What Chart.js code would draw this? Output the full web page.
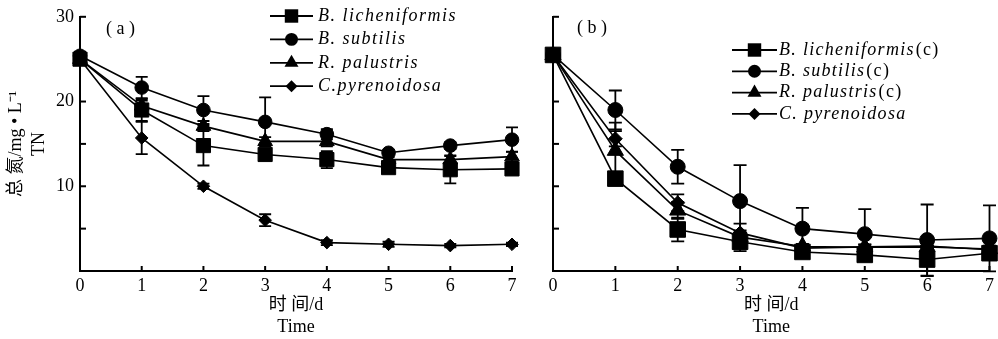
<!DOCTYPE html>
<html><head><meta charset="utf-8">
<script src="https://cdn.jsdelivr.net/npm/chart.js@4/dist/chart.umd.min.js"></script>
<style>
html,body{margin:0;padding:0;background:#fff;width:998px;height:339px;overflow:hidden;}
#wrapA{position:absolute;left:0;top:0;width:535px;height:339px;}
#wrapB{position:absolute;left:520px;top:0;width:478px;height:339px;}
canvas{display:block;}
</style></head><body>
<div id="wrapA"><canvas id="cA" width="535" height="339"></canvas></div>
<div id="wrapB"><canvas id="cB" width="478" height="339"></canvas></div>
<script>
// ---- data ----
const days = [0, 1, 2, 3, 4, 5, 6, 7];
const yLabelValues = [10, 20, 30];
const namesA = ['B. licheniformis', 'B. subtilis', 'R. palustris', 'C.pyrenoidosa'];
const namesB = ['B. licheniformis', 'B. subtilis', 'R. palustris', 'C. pyrenoidosa'];
const suffixB = ['(c)', '(c)', '(c)', ''];
const xTitle = ['时 间/d', 'Time'];
const yTitle = ['总 氮/mg • L⁻¹', 'TN'];

// panel (a)
const aLich = [25.0, 19.0, 14.8, 13.75, 13.15, 12.2, 11.95, 12.05];
const aLichErr = [0.5, 1.3, 2.35, 0.5, 1.0, 0.4, 1.6, 0.6];
const aSubt = [25.4, 21.65, 19.0, 17.6, 16.15, 13.95, 14.8, 15.5];
const aSubtErr = [0.5, 1.25, 1.65, 2.9, 0.6, 0.3, 0.4, 1.45];
const aPalu = [25.0, 19.5, 17.1, 15.3, 15.3, 13.15, 13.15, 13.5];
const aPaluErr = [0.3, 0.6, 0.6, 0.5, 0.6, 0.3, 0.5, 0.6];
const aPyre = [25.0, 15.7, 10.0, 6.0, 3.35, 3.15, 3.0, 3.15];
const aPyreErr = [0.3, 1.9, 0.3, 0.7, 0.3, 0.3, 0.2, 0.2];

// panel (b)
const bLich = [25.5, 10.9, 4.9, 3.45, 2.25, 1.9, 1.35, 2.1];
const bLichErr = [0, 0.5, 1.4, 1.1, 0.4, 0.5, 1.95, 0.8];
const bSubt = [25.5, 19.0, 12.3, 8.25, 5.0, 4.35, 3.65, 3.85];
const bSubtErr = [0, 2.3, 2.0, 4.25, 2.45, 2.95, 4.2, 3.9];
const bPalu = [25.5, 14.2, 7.15, 4.0, 2.9, 2.8, 2.85, 2.6];
const bPaluErr = [0, 3.3, 1.0, 0.8, 0.3, 0.3, 0.4, 0.4];
const bPyre = [25.5, 15.6, 8.05, 4.5, 2.7, 2.85, 2.95, 2.5];
const bPyreErr = [0, 0.9, 1.0, 1.1, 0.3, 0.3, 0.3, 0.3];

// ---- styles ----
const SERIF = "'Liberation Serif', 'Times New Roman', 'Noto Sans CJK SC', serif";
const markers = [
  {style: 'rect', r: 10},
  {style: 'circle', r: 6.8},
  {style: 'triangle', r: 8.5},
  {style: 'rectRot', r: 6.3}
];

function pts(vals) { return days.map((d, i) => ({x: d, y: vals[i]})); }

function makeDatasets(names, valsList, errList, scaleUp) {
  return valsList.map((vals, k) => ({
    label: names[k],
    data: pts(vals),
    errors: errList[k],
    borderColor: '#000',
    backgroundColor: '#000',
    borderWidth: 1.6,
    pointStyle: markers[k].style,
    pointRadius: markers[k].r * scaleUp,
    pointBackgroundColor: '#000',
    pointBorderColor: '#000',
    pointBorderWidth: 1,
    tension: 0,
    clip: false
  }));
}

function drawMarker(ctx, style, x, y, r) {
  ctx.beginPath();
  if (style === 'circle') {
    ctx.arc(x, y, r, 0, Math.PI * 2);
  } else if (style === 'rect') {
    const s = Math.SQRT1_2 * r;
    ctx.rect(x - s, y - s, 2 * s, 2 * s);
  } else if (style === 'triangle') {
    let a = 0;
    ctx.moveTo(x + Math.sin(a) * r, y - Math.cos(a) * r);
    a += 2 * Math.PI / 3;
    ctx.lineTo(x + Math.sin(a) * r, y - Math.cos(a) * r);
    a += 2 * Math.PI / 3;
    ctx.lineTo(x + Math.sin(a) * r, y - Math.cos(a) * r);
    ctx.closePath();
  } else if (style === 'rectRot') {
    ctx.moveTo(x, y - r); ctx.lineTo(x + r, y); ctx.lineTo(x, y + r); ctx.lineTo(x - r, y);
    ctx.closePath();
  }
  ctx.fill();
}

const decoPlugin = {
  id: 'deco',
  beforeDatasetsDraw(chart) {
    const ctx = chart.ctx, xs = chart.scales.x, ys = chart.scales.y;
    const cap = chart.options.plugins.deco.cap;
    ctx.save();
    ctx.strokeStyle = '#000';
    ctx.lineWidth = 1.8;
    chart.data.datasets.forEach(ds => {
      ds.data.forEach((p, i) => {
        const e = ds.errors[i];
        if (!e) return;
        const x = xs.getPixelForValue(p.x);
        const y1 = ys.getPixelForValue(p.y + e);
        const y2 = ys.getPixelForValue(p.y - e);
        ctx.beginPath();
        ctx.moveTo(x, y1); ctx.lineTo(x, y2);
        ctx.moveTo(x - cap / 2, y1); ctx.lineTo(x + cap / 2, y1);
        ctx.moveTo(x - cap / 2, y2); ctx.lineTo(x + cap / 2, y2);
        ctx.stroke();
      });
    });
    ctx.restore();
  },
  afterDraw(chart) {
    const ctx = chart.ctx, xs = chart.scales.x, ys = chart.scales.y;
    const o = chart.options.plugins.deco;
    const area = chart.chartArea;
    ctx.save();
    // inward tick marks
    ctx.strokeStyle = '#000';
    ctx.lineWidth = 2;
    xs.ticks.forEach(t => {
      if (t.value === 0) return;
      const x = xs.getPixelForValue(t.value);
      ctx.beginPath(); ctx.moveTo(x, area.bottom); ctx.lineTo(x, area.bottom - 5); ctx.stroke();
    });
    ys.ticks.forEach(t => {
      if (t.value === 0) return;
      const y = ys.getPixelForValue(t.value);
      ctx.beginPath(); ctx.moveTo(area.left, y); ctx.lineTo(area.left + 6, y); ctx.stroke();
    });
    // panel label
    ctx.fillStyle = '#000';
    ctx.font = '18px ' + SERIF;
    ctx.textBaseline = 'middle';
    ctx.textAlign = 'left';
    ctx.fillText(o.label, o.labelX, o.labelY);
    // legend
    const lg = o.legend;
    chart.data.datasets.forEach((ds, k) => {
      const y = lg.y0 + k * lg.dy;
      ctx.lineWidth = 1.8;
      ctx.beginPath(); ctx.moveTo(lg.x1, y); ctx.lineTo(lg.x2, y); ctx.stroke();
      drawMarker(ctx, markers[k].style, (lg.x1 + lg.x2) / 2, y, markers[k].r * lg.mscale);
      ctx.font = 'italic ' + lg.size + 'px ' + SERIF;
      if ('letterSpacing' in ctx) ctx.letterSpacing = lg.ls + 'px';
      ctx.fillText(ds.label, lg.tx, y);
      const w = ctx.measureText(ds.label).width;
      if (lg.suffix && lg.suffix[k]) {
        ctx.font = lg.size + 'px ' + SERIF;
        ctx.fillText(lg.suffix[k], lg.tx + w + 1, y);
      }
      if ('letterSpacing' in ctx) ctx.letterSpacing = '0px';
    });
    ctx.restore();
  }
};

function makeOptions(showYLabels, yWidth, padRight, deco) {
  return {
    responsive: false,
    animation: false,
    events: [],
    devicePixelRatio: 1,
    layout: {autoPadding: false, padding: {left: 0, right: padRight, top: 15, bottom: 0}},
    plugins: {legend: {display: false}, tooltip: {enabled: false}, deco: deco},
    scales: {
      x: {
        type: 'linear', min: 0, max: 7,
        ticks: {stepSize: 1, color: '#000', padding: 4, font: {family: SERIF, size: 18}},
        grid: {display: false, drawTicks: false},
        border: {display: true, color: '#000', width: 2},
        title: {display: true, text: xTitle, color: '#000',
                font: {family: SERIF, size: 18, lineHeight: 1.22},
                padding: {top: 0, bottom: 1}},
        afterFit(s) { s.height = 68; }
      },
      y: {
        type: 'linear', min: 0, max: 30,
        ticks: {stepSize: 5, color: '#000', padding: 6, font: {family: SERIF, size: 18},
                callback: v => (showYLabels && yLabelValues.includes(v)) ? String(v) : ''},
        grid: {display: false, drawTicks: false},
        border: {display: true, color: '#000', width: 2},
        title: {display: showYLabels, text: yTitle, color: '#000',
                font: {family: SERIF, size: 18, lineHeight: 1.28},
                padding: {top: 5, bottom: 0}},
        afterFit(s) { s.width = yWidth; }
      }
    }
  };
}

new Chart(document.getElementById('cA'), {
  type: 'line',
  data: {datasets: makeDatasets(namesA, [aLich, aSubt, aPalu, aPyre], [aLichErr, aSubtErr, aPaluErr, aPyreErr], 1)},
  options: makeOptions(true, 80, 23, {
    cap: 12, label: '( a )', labelX: 106, labelY: 29,
    legend: {x1: 270, x2: 313, tx: 318, y0: 16, dy: 23.4, size: 18, ls: 1.5, mscale: 0.95, suffix: null}
  }),
  plugins: [decoPlugin]
});

new Chart(document.getElementById('cB'), {
  type: 'line',
  data: {datasets: makeDatasets(namesB, [bLich, bSubt, bPalu, bPyre], [bLichErr, bSubtErr, bPaluErr, bPyreErr], 1.1)},
  options: makeOptions(false, 33, 0, {
    cap: 13, label: '( b )', labelX: 57, labelY: 28,
    legend: {x1: 212, x2: 257, tx: 259, y0: 50, dy: 21.3, size: 18, ls: 1.3, mscale: 0.95, suffix: suffixB}
  }),
  plugins: [decoPlugin]
});
</script>
</body></html>
